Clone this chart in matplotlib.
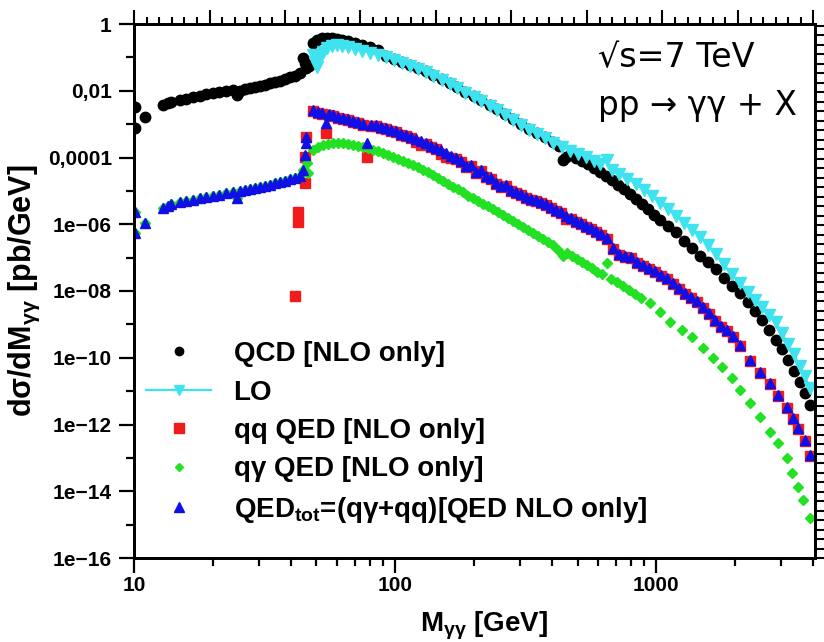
import matplotlib
matplotlib.use("Agg")
import matplotlib.pyplot as plt
from matplotlib.lines import Line2D
from matplotlib.ticker import FixedLocator, NullFormatter, MultipleLocator, LogLocator
from matplotlib.font_manager import FontProperties

# ---------------- data ----------------
qcd_mass = [10.1, 10.1, 11.0, 12.9, 13.5, 13.9, 15.0, 15.8, 16.8, 17.9,
            18.9, 20.1, 21.2, 22.5, 23.9, 24.8, 25.5, 26.6, 27.8, 29.1,
            30.4, 31.8, 33.2, 34.7, 36.3, 37.9, 39.6, 41.4, 43.3, 44.4,
            45.2, 45.6, 46.7, 48.5, 50.2, 52.5, 54.9, 57.4, 60.0, 62.7,
            66.1, 70.2, 74.8, 80.1, 85.9, 92.2, 98.9, 106, 114, 122,
            131, 140, 151, 162, 173, 186, 200, 214, 230, 246,
            264, 284, 304, 326, 350, 376, 403, 425, 440, 452,
            468, 494, 521, 549, 579, 610, 643, 678, 715, 754,
            795, 838, 884, 932, 982, 1036, 1112, 1193, 1281, 1374,
            1475, 1582, 1698, 1822, 1956, 2098, 2252, 2394, 2547, 2710,
            2883, 3040, 3204, 3379, 3562, 3723, 3890]
qcd_val = [3.3e-3, 7.7e-4, 1.6e-3, 3.7e-3, 4.3e-3, 4.6e-3, 5.3e-3, 5.6e-3, 6.5e-3, 7.0e-3,
           8.0e-3, 8.6e-3, 9.2e-3, 9.8e-3, 1.05e-2, 7.5e-3, 9.8e-3, 1.13e-2, 1.21e-2, 1.29e-2,
           1.39e-2, 1.49e-2, 1.71e-2, 1.83e-2, 1.96e-2, 2.25e-2, 2.58e-2, 2.77e-2, 3.4e-2, 9.6e-2,
           6.8e-2, 4.8e-2, 5.5e-2, 0.27, 0.332, 0.381, 0.381, 0.381, 0.356, 0.332,
           0.31, 0.27, 0.235, 0.204, 0.166, 0.11, 0.0894, 0.0727, 0.0591, 0.0481,
           0.039, 0.0297, 0.0225, 0.0171, 0.0129, 0.00918, 0.00697, 0.00528, 0.00374, 0.00284,
           0.00201, 0.00142, 0.00101, 7.15e-4, 5.42e-4, 4.11e-4, 2.91e-4, 2.21e-4, 8.4e-5, 1.04e-4,
           1.19e-4, 9.7e-5, 7.9e-5, 6.4e-5, 4.8e-5, 3.7e-5, 2.8e-5, 2.12e-5, 1.5e-5, 1.14e-5,
           8.1e-6, 5.7e-6, 4.0e-6, 2.9e-6, 1.9e-6, 1.34e-6, 8.9e-7, 5.9e-7, 3.2e-7, 1.94e-7,
           1.12e-7, 7.4e-8, 4.7e-8, 2.5e-8, 1.41e-8, 8.7e-9, 4.7e-9, 2.5e-9, 1.35e-9, 6.8e-10,
           3.4e-10, 1.83e-10, 8.6e-11, 4.0e-11, 1.87e-11, 8.8e-12, 3.8e-12]

lo_mass = [48.5, 49.3, 50.2, 51.6, 52.9, 54.9, 57.4, 60.0, 62.7, 66.1,
           70.2, 74.8, 80.1, 85.9, 92.2, 98.9, 106, 114, 122, 131,
           140, 151, 162, 173, 186, 200, 214, 230, 246, 264,
           284, 304, 326, 350, 376, 403, 437, 468, 503, 540,
           579, 610, 649, 678, 721, 774, 838, 895, 962, 1036,
           1112, 1193, 1281, 1374, 1475, 1582, 1698, 1822, 1956, 2098,
           2252, 2394, 2547, 2710, 2883, 3040, 3204, 3379, 3562, 3723,
           3890]
lo_val = [0.118, 0.0727, 0.0515, 0.0958, 0.145, 0.191, 0.219, 0.235, 0.219, 0.205,
          0.178, 0.155, 0.135, 0.118, 0.1026, 0.0834, 0.0678, 0.0552, 0.0449, 0.0365,
          0.0277, 0.021, 0.0159, 0.0121, 0.00857, 0.0065, 0.00493, 0.00349, 0.00265, 0.00188,
          0.00133, 9.4e-4, 6.67e-4, 5.06e-4, 3.84e-4, 2.72e-4, 2.06e-4, 1.57e-4, 1.27e-4, 1.04e-4,
          7.9e-5, 6.4e-5, 8.4e-5, 4.2e-5, 3.2e-5, 2.27e-5, 1.61e-5, 1.06e-5, 7.0e-6, 4.3e-6,
          2.9e-6, 1.77e-6, 1.09e-6, 6.7e-7, 4.15e-7, 2.4e-7, 1.29e-7, 6.4e-8, 3.2e-8, 1.74e-8,
          9.3e-9, 5.4e-9, 3.3e-9, 1.91e-9, 1.18e-9, 5.5e-10, 2.6e-10, 1.29e-10, 5.7e-11, 2.8e-11,
          1.24e-11]

qq_mass = [41.4, 42.5, 42.5, 45.2, 45.2, 45.4,
           48.5, 50.7, 52.5, 54.4, 55.9, 57.9, 60.5, 63.2, 66.0, 69.1,
           72.2, 75.4, 78.1, 80.9, 84.6, 88.4, 92.4, 96.5, 100.9, 105.4,
           110.2, 115.2, 120.4, 125.8, 131.5, 137.4, 143.6, 150.1, 156.8, 163.9,
           171.3, 179.0, 187.1, 195.5, 204.3, 213.5, 223.1, 233.2, 243.8, 254.7,
           266.2, 278.2, 290.8, 303.9, 317.6, 331.9, 346.9, 362.5, 378.8, 395.9,
           413.9, 432.5, 452.0, 472.3, 493.7, 515.9, 539.2, 563.6, 588.9, 615.5,
           649.0, 684.3, 721.6, 760.8, 802.2, 845.8, 891.8, 940.3, 991.3, 1045,
           1102, 1162, 1225, 1292, 1362, 1436, 1514, 1597, 1683, 1774,
           1871, 1972, 2098, 2292, 2503, 2734, 2934, 3176, 3349, 3501,
           3723, 3890]
qq_val = [7.1e-9, 2.3e-6, 1.17e-6, 1.73e-5, 1.04e-4, 4.1e-4,
          2.4e-3, 2.1e-3, 2.0e-3, 5.4e-4, 1.85e-3, 1.75e-3, 1.5e-3, 1.4e-3, 1.3e-3, 1.15e-3,
          1.08e-3, 9.3e-4, 1.04e-4, 8.7e-4, 8.7e-4, 7.6e-4, 7.1e-4, 6.2e-4, 5.8e-4, 4.7e-4,
          4.4e-4, 3.8e-4, 3.0e-4, 2.3e-4, 2.5e-4, 2.05e-4, 1.8e-4, 1.3e-4, 1.05e-4, 1.0e-4,
          9.0e-5, 7.3e-5, 5.2e-5, 5.5e-5, 3.4e-5, 3.9e-5, 2.6e-5, 2.25e-5, 1.6e-5, 1.3e-5,
          1.4e-5, 9.8e-6, 8.6e-6, 7.5e-6, 6.1e-6, 5.3e-6, 5.0e-6, 4.3e-6, 3.75e-6, 3.05e-6,
          2.5e-6, 2.15e-6, 1.4e-6, 1.43e-6, 1.16e-6, 1.0e-6, 8.2e-7, 7.2e-7, 5.8e-7, 4.7e-7,
          3.6e-7, 1.8e-7, 1.19e-7, 1.04e-7, 9.6e-8, 6.9e-8, 5.6e-8, 4.5e-8, 3.7e-8, 2.8e-8,
          2.3e-8, 1.6e-8, 1.15e-8, 8.1e-9, 6.1e-9, 4.7e-9, 3.1e-9, 2.0e-9, 1.26e-9, 8.3e-10,
          6.3e-10, 4.2e-10, 2.25e-10, 8.0e-11, 3.5e-11, 1.63e-11, 7.1e-12, 3.1e-12, 1.46e-12, 7.3e-13,
          3.2e-13, 1.13e-13]

qg_mass = [10.1, 10.1, 11.0, 12.9, 13.5, 13.9, 15.0, 15.8, 16.8, 17.9,
           18.9, 20.1, 21.2, 22.5, 23.9, 24.8, 25.5, 26.6, 27.8, 29.1,
           30.4, 31.8, 33.2, 34.7, 36.3, 37.9, 39.6, 41.4, 43.3, 44.4,
           45.9, 46.4,
           48.5, 50.7, 53.0, 55.4, 57.9, 60.5, 63.2, 66.0, 69.1, 72.2,
           75.4, 78.8, 82.4, 86.1, 89.9, 94.0, 98.2, 102.7, 107.3, 112.2,
           117.2, 122.5, 128.0, 133.8, 139.8, 146.2, 152.7, 159.6, 166.8, 174.3,
           182.2, 190.4, 199.0, 208.0, 217.3, 227.2, 237.4, 248.1, 259.3, 271.0,
           283.2, 296.0, 309.3, 323.3, 337.9, 353.1, 369.0, 385.6, 403.1, 421.2,
           440.3, 456.0, 476.7, 498.1, 520.6, 544.0, 568.6, 594.2, 621.0, 649.0,
           672.4, 708.9, 747.4, 788.0, 830.8, 876.0, 949, 1036, 1131, 1258,
           1374, 1514, 1653, 1790, 1956, 2098, 2292, 2503, 2734, 2934,
           3176, 3320, 3501, 3658, 3890]
qg_val = [2.3e-6, 5.5e-7, 1.09e-6, 3.1e-6, 3.5e-6, 4.0e-6, 4.6e-6, 5.0e-6, 5.3e-6, 6.1e-6,
          6.6e-6, 7.0e-6, 7.5e-6, 8.7e-6, 9.3e-6, 6.1e-6, 1.0e-5, 1.06e-5, 1.14e-5, 1.22e-5,
          1.31e-5, 1.4e-5, 1.5e-5, 1.72e-5, 1.85e-5, 1.98e-5, 2.27e-5, 2.43e-5, 2.8e-5, 4.2e-5,
          6.84e-5, 3.43e-5,
          1.68e-4, 2.06e-4, 2.37e-4, 2.54e-4, 2.72e-4, 2.72e-4, 2.72e-4, 2.54e-4, 2.37e-4, 2.21e-4,
          2.06e-4, 1.93e-4, 1.68e-4, 1.57e-4, 1.36e-4, 1.19e-4, 1.03e-4, 9.02e-5, 7.86e-5, 6.84e-5,
          5.96e-5, 5.19e-5, 4.2e-5, 3.68e-5, 2.99e-5, 2.43e-5, 1.98e-5, 1.61e-5, 1.31e-5, 1.14e-5,
          9.25e-6, 7.02e-6, 6.11e-6, 4.97e-6, 4.04e-6, 3.52e-6, 2.86e-6, 2.33e-6, 1.89e-6, 1.54e-6,
          1.25e-6, 1.02e-6, 8.27e-7, 6.72e-7, 5.47e-7, 4.44e-7, 3.61e-7, 2.94e-7, 2.39e-7, 1.69e-7,
          1.12e-7, 1.38e-7, 1.12e-7, 9.09e-8, 7.39e-8, 6.01e-8, 4.89e-8, 3.71e-8, 3.23e-8, 6.90e-8,
          2.29e-8, 1.86e-8, 1.41e-8, 1.07e-8, 8.13e-9, 6.17e-9, 4.37e-9, 2.35e-9, 1.18e-9, 6.78e-10,
          4.18e-10, 1.96e-10, 9.83e-11, 5.28e-11, 2.47e-11, 1.08e-11, 4.41e-12, 1.68e-12, 5.96e-13, 2.79e-13,
          9.91e-14, 3.52e-14, 1.34e-14, 5.46e-15, 1.58e-15]

tot_mass = [10.1, 10.1, 11.0, 12.9, 13.5, 13.9, 15.0, 15.8, 16.8, 17.9,
            18.9, 20.1, 21.2, 22.5, 23.9, 24.8, 25.5, 26.6, 27.8, 29.1,
            30.4, 31.8, 33.2, 34.7, 36.3, 37.9, 39.6, 41.4, 43.3, 44.4,
            45.2, 45.4, 45.6,
            48.5, 50.7, 52.5, 54.4, 55.9, 57.9, 60.5, 63.2, 66.0, 69.1,
            72.2, 75.4, 78.1, 80.9, 84.6, 88.4, 92.4, 96.5, 100.9, 105.4,
            110.2, 115.2, 120.4, 125.8, 131.5, 137.4, 143.6, 150.1, 156.8, 163.9,
            171.3, 179.0, 187.1, 195.5, 204.3, 213.5, 223.1, 233.2, 243.8, 254.7,
            266.2, 278.2, 290.8, 303.9, 317.6, 331.9, 346.9, 362.5, 378.8, 395.9,
            413.9, 432.5, 452.0, 472.3, 493.7, 515.9, 539.2, 563.6, 588.9, 615.5,
            649.0, 684.3, 721.6, 760.8, 802.2, 845.8, 891.8, 940.3, 991.3, 1045,
            1102, 1162, 1225, 1292, 1362, 1436, 1514, 1597, 1683, 1774,
            1871, 1972, 2098, 2292, 2503, 2734, 2934, 3176, 3349, 3501,
            3723, 3890]
tot_val = [2.3e-6, 5.5e-7, 1.09e-6, 3.1e-6, 3.5e-6, 4.0e-6, 4.6e-6, 5.0e-6, 5.3e-6, 6.1e-6,
           6.6e-6, 7.0e-6, 7.5e-6, 8.7e-6, 9.3e-6, 6.1e-6, 1.0e-5, 1.06e-5, 1.14e-5, 1.22e-5,
           1.31e-5, 1.4e-5, 1.5e-5, 1.72e-5, 1.85e-5, 1.98e-5, 2.27e-5, 2.43e-5, 2.8e-5, 4.2e-5,
           1.19e-4, 4.1e-4, 2.72e-4,
           2.65e-3, 2.31e-3, 2.15e-3, 1.08e-3, 2.01e-3, 1.88e-3, 1.63e-3, 1.53e-3, 1.42e-3, 1.24e-3,
           1.16e-3, 1.01e-3, 2.72e-4, 9.4e-4, 9.4e-4, 8.2e-4, 7.65e-4, 6.67e-4, 6.22e-4, 5.06e-4,
           4.72e-4, 4.11e-4, 3.58e-4, 3.12e-4, 2.72e-4, 2.21e-4, 1.93e-4, 1.68e-4, 1.36e-4, 1.11e-4,
           9.7e-5, 7.9e-5, 5.6e-5, 5.96e-5, 3.7e-5, 4.2e-5, 2.79e-5, 2.43e-5, 1.72e-5, 1.40e-5,
           1.50e-5, 1.06e-5, 9.25e-6, 8.06e-6, 6.55e-6, 5.71e-6, 5.33e-6, 4.64e-6, 4.04e-6, 3.29e-6,
           2.67e-6, 2.33e-6, 1.77e-6, 1.54e-6, 1.25e-6, 1.09e-6, 8.86e-7, 7.72e-7, 6.27e-7, 5.10e-7,
           3.87e-7, 1.94e-7, 1.28e-7, 1.12e-7, 1.04e-7, 7.39e-8, 6.01e-8, 4.89e-8, 3.97e-8, 3.02e-8,
           2.45e-8, 1.74e-8, 1.23e-8, 8.71e-9, 6.61e-9, 5.01e-9, 3.31e-9, 2.19e-9, 1.35e-9, 8.94e-10,
           6.78e-10, 4.48e-10, 2.41e-10, 8.56e-11, 3.74e-11, 1.75e-11, 7.65e-12, 3.34e-12, 1.57e-12, 7.85e-13,
           3.43e-13, 1.22e-13]

y_tick_vals = [1, 1e-2, 1e-4, 1e-6, 1e-8, 1e-10, 1e-12, 1e-14, 1e-16]
y_tick_labels = ["1", "0,01", "0,0001", "1e\u221206", "1e\u221208", "1e\u221210",
                 "1e\u221212", "1e\u221214", "1e\u221216"]
y_minor_vals = [1e-1, 1e-3, 1e-5, 1e-7, 1e-9, 1e-11, 1e-13, 1e-15]
x_tick_vals = [10, 100, 1000]
x_tick_labels = ["10", "100", "1000"]

labels = ["QCD [NLO only]", "LO", "qq QED [NLO only]", "q\u03b3 QED [NLO only]",
          "QED$_{tot}$=(q\u03b3+qq)[QED NLO only]"]

# ---------------- style ----------------
plt.rcParams['font.family'] = ['Liberation Sans', 'DejaVu Sans']
plt.rcParams['mathtext.fontset'] = 'custom'
plt.rcParams['mathtext.rm'] = 'Liberation Sans:bold'
plt.rcParams['mathtext.bf'] = 'Liberation Sans:bold'
plt.rcParams['mathtext.it'] = 'Liberation Sans:bold'
plt.rcParams['mathtext.default'] = 'rm'

C_QCD = '#000000'
C_LO = '#3FE3F0'
C_QQ = '#F21B1B'
C_QG = '#22E022'
C_TOT = '#1010E6'

fig = plt.figure(figsize=(8.24, 6.42), dpi=100)
ax = fig.add_axes([134 / 824, 84 / 642, 681 / 824, 534 / 642])

ax.plot(qcd_mass, qcd_val, ls='none', marker='o', ms=7.5, color=C_QCD, mec=C_QCD, zorder=2)
ax.plot(lo_mass, lo_val, ls='-', lw=1.0, marker='v', ms=8.5, color=C_LO, mec=C_LO, zorder=3)
ax.plot(qq_mass, qq_val, ls='none', marker='s', ms=7.5, color=C_QQ, mec=C_QQ, zorder=4)
ax.plot(qg_mass, qg_val, ls='none', marker='D', ms=5, color=C_QG, mec=C_QG, zorder=5)
ax.plot(tot_mass, tot_val, ls='none', marker='^', ms=7, color=C_TOT, mec=C_TOT, zorder=6)

ax.set_xscale('log')
ax.set_yscale('log')
ax.set_xlim(10, 4060)
ax.set_ylim(1e-16, 1)

ax.yaxis.set_major_locator(FixedLocator(y_tick_vals))
ax.set_yticklabels(y_tick_labels)
ax.yaxis.set_minor_locator(FixedLocator(y_minor_vals))
ax.yaxis.set_minor_formatter(NullFormatter())
ax.xaxis.set_major_locator(FixedLocator(x_tick_vals))
ax.set_xticklabels(x_tick_labels)
ax.xaxis.set_minor_locator(LogLocator(base=10, subs=[2, 3, 4, 5, 6, 7, 8, 9]))
ax.xaxis.set_minor_formatter(NullFormatter())

for lab in ax.get_xticklabels() + ax.get_yticklabels():
    lab.set_fontweight('bold')
    lab.set_fontsize(15)

ax.tick_params(axis='both', which='major', direction='out', length=11, width=1.6)
ax.tick_params(axis='y', which='major', pad=5)
ax.tick_params(axis='x', which='major', pad=2)
ax.tick_params(axis='both', which='minor', direction='out', length=5.5, width=1.6)
for s in ax.spines.values():
    s.set_linewidth(1.8)

# top decoration axis (linear ticks)
axt = ax.twiny()
axt.set_xscale('linear')
axt.set_xlim(0, 681 / 75.5)
axt.xaxis.set_major_locator(MultipleLocator(1))
axt.xaxis.set_minor_locator(MultipleLocator(1 / 6))
axt.tick_params(axis='x', which='major', direction='out', length=10, width=1.5, labeltop=False)
axt.tick_params(axis='x', which='minor', direction='out', length=5, width=1.5)
# right decoration axis (linear ticks)
axr = ax.twinx()
axr.set_yscale('linear')
axr.set_ylim(0, 534 / 9.5)
axr.yaxis.set_major_locator(MultipleLocator(1))
axr.tick_params(axis='y', which='major', direction='out', length=7, width=1.5, labelright=False)
for a in (axt, axr):
    for s in a.spines.values():
        s.set_linewidth(1.8)

ax.set_ylabel("d\u03c3/dM$_{\u03b3\u03b3}$ [pb/GeV]", fontsize=22, fontweight='bold')
ax.yaxis.set_label_coords(-0.135, 0.5)
ax.set_xlabel("M$_{\u03b3\u03b3}$ [GeV]", fontsize=20, fontweight='bold')
ax.xaxis.set_label_coords(0.514, -0.097)

fig.text(598 / 824, 1 - 67 / 642, "\u221as=7 TeV", fontsize=24, family='DejaVu Sans',
         va='baseline', ha='left')
fig.text(598 / 824, 1 - 115 / 642, "pp \u2192 \u03b3\u03b3 + X", fontsize=23.5, family='DejaVu Sans',
         va='baseline', ha='left')

handles = [
    Line2D([], [], ls='none', marker='o', ms=6, color=C_QCD),
    Line2D([], [], ls='-', lw=1.6, marker='v', ms=6.5, color=C_LO),
    Line2D([], [], ls='none', marker='s', ms=6.5, color=C_QQ),
    Line2D([], [], ls='none', marker='D', ms=4.5, color=C_QG),
    Line2D([], [], ls='none', marker='^', ms=6.5, color=C_TOT),
]
fig.legend(handles, labels, loc='upper left', bbox_to_anchor=(146 / 824, 1 - 341 / 642),
           frameon=False, prop=FontProperties(family='Liberation Sans', weight='bold', size=20),
           handlelength=2.35, handletextpad=0.8, labelspacing=0.45, borderpad=0,
           borderaxespad=0, numpoints=1)

fig.savefig("out.png", dpi=100)
